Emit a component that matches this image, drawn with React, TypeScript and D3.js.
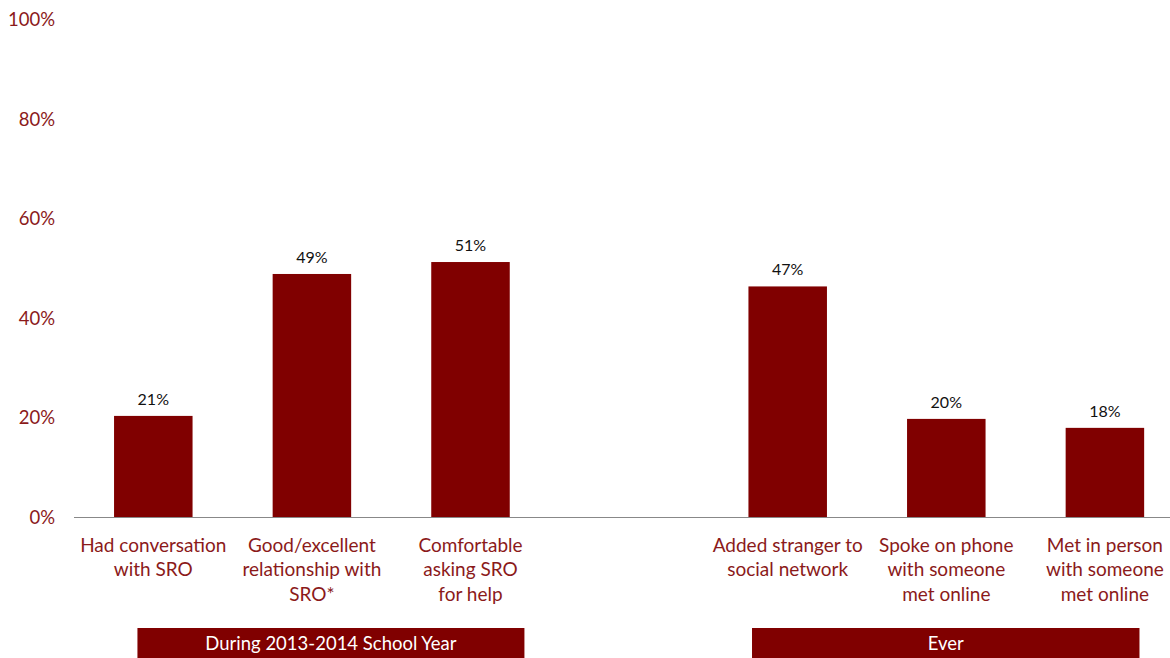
import React from "react";
import * as d3 from "d3";

const categories = [
  "Had conversation|with SRO",
  "Good/excellent|relationship with|SRO*",
  "Comfortable|asking SRO|for help",
  "",
  "Added stranger to|social network",
  "Spoke on phone|with someone|met online",
  "Met in person|with someone|met online",
];
const values: (number | null)[] = [20.4, 48.9, 51.3, null, 46.4, 19.8, 18.0];
const valueLabels = ["21%", "49%", "51%", "", "47%", "20%", "18%"];
const yTicks = [0, 20, 40, 60, 80, 100];
const groups = [
  { label: "During 2013-2014 School Year", from: 0, to: 2 },
  { label: "Ever", from: 4, to: 6 },
];

const W = 1170;
const H = 658;
const BAR = "#800000";
const LABEL = "#8B1A1A";
const FONT = "Lato, 'Open Sans', sans-serif";

export default function App() {
  const keys = categories.map((_, i) => String(i));
  const x = d3
    .scaleBand<string>()
    .domain(keys)
    .range([74, 74 + 7 * 158.6])
    .paddingInner(0.505)
    .paddingOuter(0.2525);
  const y = d3.scaleLinear().domain([0, 100]).range([517.5, 19.5]);
  const bw = x.bandwidth();
  const step = x.step();

  return (
    <div
      style={{
        position: "absolute",
        left: 0,
        top: 0,
        width: W,
        height: H,
        overflow: "hidden",
        background: "#fff",
      }}
    >
      <svg width={W} height={H} style={{ display: "block", fontFamily: FONT }}>
        {yTicks.map((t) => (
          <text
            key={t}
            x={55}
            y={y(t)}
            dy="0.35em"
            textAnchor="end"
            fontSize={18.5}
            fill={LABEL}
          >
            {t}%
          </text>
        ))}
        {values.map((v, i) =>
          v == null ? null : (
            <g key={i}>
              <rect
                x={x(String(i))!}
                y={y(v)}
                width={bw}
                height={y(0) - y(v)}
                fill={BAR}
              />
              <text
                x={x(String(i))! + bw / 2}
                y={y(v) - 11}
                textAnchor="middle"
                fontSize={16}
                fill="#111"
              >
                {valueLabels[i]}
              </text>
            </g>
          )
        )}
        <line x1={74} x2={W} y1={y(0)} y2={y(0)} stroke="#888" strokeWidth={1} />
        {categories.map((c, i) =>
          c === "" ? null : (
            <text
              key={i}
              x={x(String(i))! + bw / 2}
              y={551.5}
              textAnchor="middle"
              fontSize={19}
              fill={LABEL}
            >
              {c.split("|").map((line, j) => (
                <tspan key={j} x={x(String(i))! + bw / 2} dy={j === 0 ? 0 : 24.5}>
                  {line}
                </tspan>
              ))}
            </text>
          )
        )}
        {groups.map((g, i) => {
          const c0 = x(String(g.from))! + bw / 2;
          const c1 = x(String(g.to))! + bw / 2;
          const x0 = i === 0 ? c0 - 0.1 * step : c0 - 0.225 * step;
          const x1 = i === 0 ? c1 + 0.34 * step : c1 + 0.218 * step;
          return (
            <g key={g.label}>
              <rect x={x0} y={628} width={x1 - x0} height={40} fill={BAR} />
              <text
                x={(x0 + x1) / 2}
                y={644}
                dy="0.35em"
                textAnchor="middle"
                fontSize={18.5}
                fill="#fff"
              >
                {g.label}
              </text>
            </g>
          );
        })}
      </svg>
    </div>
  );
}
